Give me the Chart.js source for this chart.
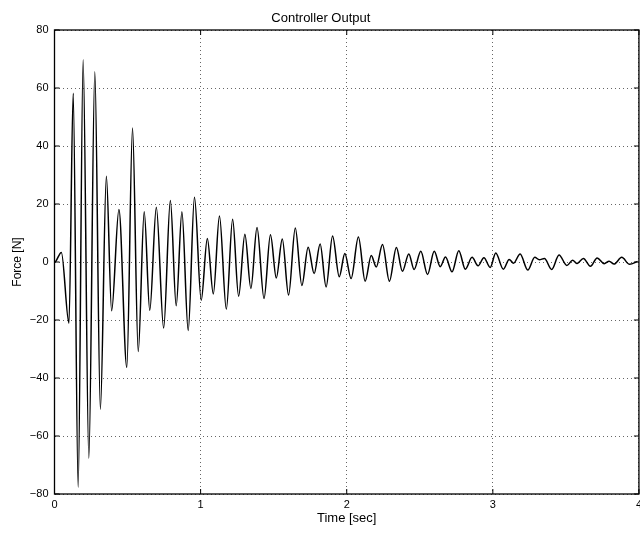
<!DOCTYPE html>
<html>
<head>
<meta charset="utf-8">
<script src="https://cdn.jsdelivr.net/npm/chart.js@4.4.0/dist/chart.umd.min.js"></script>
<style>
html,body{margin:0;padding:0;overflow:hidden;background:#fff;}
#wrap{width:646px;height:534px;}
canvas{display:block;}
</style>
</head>
<body>
<div id="wrap"><canvas id="c" width="646" height="534"></canvas></div>
<script>
// Peak / trough samples (time in s, force in N)
const timeSec = [0, 0.008, 0.047, 0.099, 0.128, 0.162, 0.196, 0.235, 0.276, 0.314, 0.355, 0.391, 0.441, 0.495, 0.534, 0.573, 0.614, 0.652, 0.697, 0.747, 0.793, 0.833, 0.872, 0.915, 0.958, 1.004, 1.046, 1.087, 1.129, 1.176, 1.219, 1.260, 1.303, 1.344, 1.386, 1.434, 1.478, 1.518, 1.559, 1.602, 1.648, 1.693, 1.736, 1.777, 1.818, 1.859, 1.903, 1.949, 1.987, 2.030, 2.080, 2.126, 2.168, 2.202, 2.245, 2.292, 2.340, 2.381, 2.425, 2.461, 2.507, 2.553, 2.599, 2.640, 2.676, 2.721, 2.767, 2.812, 2.858, 2.899, 2.939, 2.982, 3.020, 3.072, 3.112, 3.142, 3.187, 3.239, 3.287, 3.318, 3.353, 3.403, 3.453, 3.507, 3.546, 3.575, 3.620, 3.668, 3.714, 3.762, 3.796, 3.830, 3.882, 3.936, 3.99];
const forceN = [0, 0.2, 3.3, -21.1, 58.2, -77.7, 69.7, -67.7, 65.6, -50.8, 29.6, -16.8, 18.1, -36.3, 46.2, -30.9, 17.3, -16.7, 18.9, -22.8, 21.2, -15.1, 17.3, -23.6, 22.3, -13.2, 8.1, -11.0, 15.9, -16.3, 14.7, -11.8, 9.6, -9.1, 11.9, -12.6, 9.4, -5.5, 7.9, -11.4, 11.7, -8.1, 5.1, -4.0, 6.2, -8.6, 9.0, -5.1, 2.9, -5.7, 8.6, -6.6, 2.2, -1.7, 6.0, -6.6, 5.0, -3.2, 2.8, -2.6, 3.7, -4.3, 3.7, -1.6, 1.7, -3.4, 3.9, -2.5, 1.6, -1.3, 1.5, -1.9, 3.1, -2.5, 0.9, -0.4, 2.8, -2.8, 1.6, 0.8, 1.2, -2.6, 2.4, -1.2, 0.6, -0.5, 1.2, -1.5, 1.4, -0.6, 0.3, -0.7, 1.6, -0.8, 0.2];
const xTicks = [0, 1, 2, 3, 4];
const yTicks = [-80, -60, -40, -20, 0, 20, 40, 60, 80];

const FAM = "'Liberation Sans', Arial, Helvetica, sans-serif";
const FONT = {family: FAM, size: 11};
const fmt = v => String(v).replace('-', '\u2212');

const frame = {
  id: 'frame',
  afterDraw(chart) {
    const {ctx, chartArea: a, scales: {x, y}} = chart;
    ctx.save();
    ctx.strokeStyle = '#000';
    ctx.lineWidth = 1;
    ctx.beginPath();
    xTicks.forEach(v => {
      const px = x.getPixelForValue(v);
      ctx.moveTo(px, a.bottom); ctx.lineTo(px, a.bottom - 5);
      ctx.moveTo(px, a.top); ctx.lineTo(px, a.top + 5);
    });
    yTicks.forEach(v => {
      const py = y.getPixelForValue(v);
      ctx.moveTo(a.left, py); ctx.lineTo(a.left + 5, py);
      ctx.moveTo(a.right, py); ctx.lineTo(a.right - 5, py);
    });
    ctx.stroke();
    ctx.lineWidth = 1.3;
    ctx.strokeRect(a.left, a.top, a.right - a.left, a.bottom - a.top);
    ctx.restore();
  }
};

new Chart(document.getElementById('c'), {
  type: 'line',
  data: {
    datasets: [{
      data: timeSec.map((t, i) => ({x: t, y: forceN[i]})),
      borderColor: '#000',
      borderWidth: 1.5,
      pointRadius: 0,
      fill: false,
      cubicInterpolationMode: 'monotone'
    }]
  },
  options: {
    responsive: false,
    animation: false,
    layout: {padding: {left: 0, right: 4.3, top: 0, bottom: 0}},
    plugins: {
      legend: {display: false},
      tooltip: {enabled: false},
      title: {
        display: true,
        text: 'Controller Output',
        color: '#000',
        font: {family: FAM, size: 13, weight: 'normal'},
        padding: {top: 10.2, bottom: 4.2}
      }
    },
    scales: {
      x: {
        type: 'linear',
        min: 0, max: 4,
        afterBuildTicks: s => { s.ticks = xTicks.map(v => ({value: v})); },
        afterFit: s => { s.height = 40; },
        ticks: {color: '#000', font: FONT, padding: 4, maxRotation: 0, autoSkip: false, callback: fmt},
        grid: {color: '#666', lineWidth: 1, drawTicks: false},
        border: {display: false, dash: [1, 3]},
        title: {display: true, text: 'Time [sec]', color: '#000', font: {family: FAM, size: 13}, padding: {top: 0, bottom: 7.7}}
      },
      y: {
        type: 'linear',
        min: -80, max: 80,
        afterBuildTicks: s => { s.ticks = yTicks.map(v => ({value: v})); },
        afterFit: s => { s.width = 54.5; },
        ticks: {color: '#000', font: FONT, padding: 6, autoSkip: false, callback: fmt},
        grid: {color: '#666', lineWidth: 1, drawTicks: false},
        border: {display: false, dash: [1, 3]},
        title: {display: true, text: 'Force [N]', color: '#000', font: {family: FAM, size: 12}, padding: {top: 10.8, bottom: 0}}
      }
    }
  },
  plugins: [frame]
});
</script>
</body>
</html>
